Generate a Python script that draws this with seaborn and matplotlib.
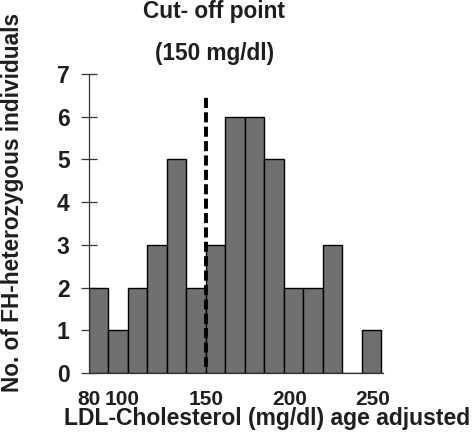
# Histogram of LDL-cholesterol in FH heterozygous individuals
import numpy as np
import pandas as pd
import matplotlib
matplotlib.use("Agg")
import matplotlib.pyplot as plt
import seaborn as sns

# Data
bin_start = 80
bin_end = 255
counts = [2, 1, 2, 3, 5, 2, 3, 6, 6, 5, 2, 2, 3, 0, 1]
x_ticks = [80, 100, 150, 200, 250]
y_ticks = [0, 1, 2, 3, 4, 5, 6, 7]
cutoff = 150

edges = np.linspace(bin_start, bin_end, len(counts) + 1)
centers = (edges[:-1] + edges[1:]) / 2
df = pd.DataFrame({"ldl": centers, "n": counts})

sns.set_style("ticks")
plt.rcParams["font.family"] = ["Liberation Sans", "DejaVu Sans"]
plt.rcParams["font.weight"] = "bold"
text_col = "#1e1e1e"

fig = plt.figure(figsize=(4.76, 4.44), dpi=100)
ax = fig.add_axes([89 / 476, 71 / 444, 294 / 476, 299 / 444])

sns.histplot(data=df, x="ldl", weights="n", bins=len(counts),
             binrange=(bin_start, bin_end), ax=ax,
             color="#707070", edgecolor="black", linewidth=1.0, alpha=1)

# cut-off line
ax.plot([cutoff, cutoff], [0.15, 6.45], color="black", lw=2.8,
        linestyle=(0, (2.6, 1.1)), solid_capstyle="butt")

ax.set_xlim(bin_start, 256)
ax.set_ylim(0, 7)
ax.set_xticks(x_ticks)
ax.set_yticks(y_ticks)
ax.set_xticklabels([str(v) for v in x_ticks], fontsize=15, fontweight="bold", color=text_col)
ax.set_yticklabels([str(v) for v in y_ticks], fontsize=16.5, fontweight="bold", color=text_col)
ax.tick_params(axis="x", length=0, pad=12)
ax.tick_params(axis="y", direction="inout", length=12, width=0.9, color="#333333", pad=8)
ax.set_xlabel("")
ax.set_ylabel("")

sns.despine(ax=ax)
for side in ["left", "bottom"]:
    ax.spines[side].set_linewidth(0.9)
    ax.spines[side].set_color("#333333")

# titles and axis labels
fig.text(214 / 476, 1 - 18 / 444, "Cut- off point", ha="center", va="baseline",
         fontsize=16.3, fontweight="bold", color=text_col)
fig.text(215 / 476, 1 - 60 / 444, "(150 mg/dl)", ha="center", va="baseline",
         fontsize=16.3, fontweight="bold", color=text_col)
fig.text(267 / 476, 1 - 425 / 444, "LDL-Cholesterol (mg/dl) age adjusted",
         ha="center", va="baseline", fontsize=16.5, fontweight="bold", color=text_col)
fig.text(13 / 476, 1 - 202 / 444, "No. of FH-heterozygous individuals",
         ha="center", va="center", rotation=90, fontsize=16.3, fontweight="bold", color=text_col)

fig.savefig("out.png", dpi=100)
